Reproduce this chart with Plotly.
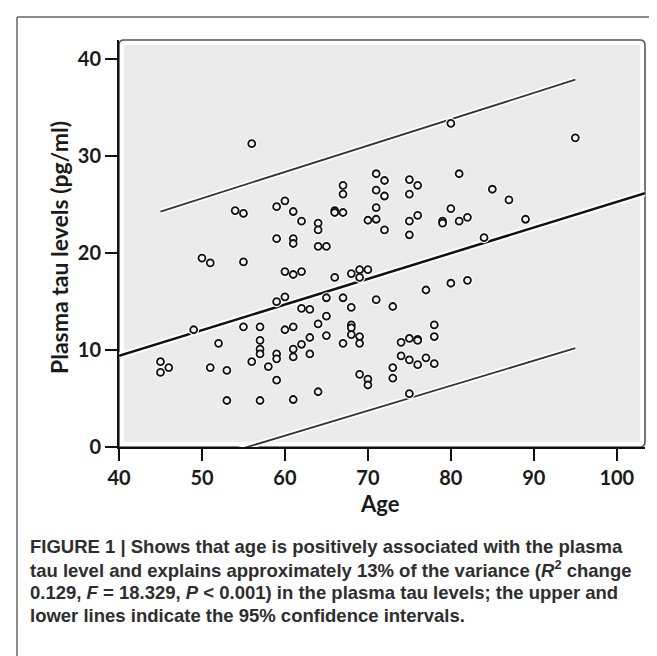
import plotly.graph_objects as go

# ---------------- data ----------------
age = [45, 45, 46, 49, 50, 51, 51, 52, 53, 53, 54, 55, 55, 55, 56, 56,
       57, 57, 57, 57, 57, 58,
       59, 59, 59, 59, 59, 59,
       60, 60, 60, 60,
       61, 61, 61, 61, 61, 61, 61, 61,
       62, 62, 62, 62,
       63, 63, 63,
       64, 64, 64, 64, 64,
       65, 65, 65, 65,
       66, 66, 66,
       67, 67, 67, 67, 67,
       68, 68, 68, 68, 68,
       69, 69, 69, 69, 69,
       70, 70, 70, 70,
       71, 71, 71, 71, 71,
       72, 72, 72,
       73, 73, 73,
       74, 74,
       75, 75, 75, 75, 75, 75, 75,
       76, 76, 76, 76, 76,
       77, 77,
       78, 78, 78,
       79, 79,
       80, 80, 80,
       81, 81,
       82, 82,
       84, 85, 87, 89, 95]
tau = [8.8, 7.7, 8.2, 12.1, 19.5, 19.0, 8.2, 10.7, 7.9, 4.8, 24.4, 24.1, 19.1, 12.4, 31.3, 8.8,
       12.4, 11.0, 10.1, 9.6, 4.8, 8.3,
       24.8, 21.5, 15.0, 9.6, 9.1, 6.9,
       25.4, 18.1, 15.5, 12.1,
       24.3, 21.5, 21.0, 17.8, 12.4, 10.1, 9.3, 4.9,
       23.3, 18.1, 14.3, 10.6,
       14.2, 11.3, 9.6,
       23.1, 22.4, 20.7, 12.7, 5.7,
       20.7, 15.4, 13.5, 11.5,
       24.4, 24.2, 17.5,
       27.0, 26.1, 24.2, 15.4, 10.7,
       17.9, 14.4, 12.6, 12.3, 11.6,
       18.3, 17.5, 11.4, 10.7, 7.5,
       23.4, 18.3, 7.0, 6.4,
       28.2, 26.5, 24.7, 23.5, 15.2,
       27.5, 25.9, 22.4,
       14.5, 8.2, 7.1,
       10.8, 9.4,
       27.6, 26.1, 23.3, 21.9, 11.2, 9.0, 5.5,
       27.0, 23.9, 11.1, 11.0, 8.5,
       16.2, 9.2,
       12.6, 11.4, 8.6,
       23.3, 23.1,
       33.4, 24.6, 16.9,
       28.2, 23.3,
       23.7, 17.2,
       21.6, 26.6, 25.5, 23.5, 31.9]

fit_x = [40, 103.4]
fit_y = [9.4, 26.2]
upper_x = [45, 95]
upper_y = [24.3, 37.9]
lower_x = [45, 95]
lower_y = [-2.7, 10.2]

x_ticks = [40, 50, 60, 70, 80, 90, 100]
y_ticks = [0, 10, 20, 30, 40]

caption_lines = [
    "FIGURE 1 | Shows that age is positively associated with the plasma",
    "tau level and explains approximately 13% of the variance (<i>R</i><sup>2</sup> change",
    "0.129, <i>F</i> = 18.329, <i>P</i> &lt; 0.001) in the plasma tau levels; the upper and",
    "lower lines indicate the 95% confidence intervals.",
]

# ---------------- layout geometry ----------------
W, H = 657, 656
L, R, T, B = 111, 637, 32, 439          # plot area in pixels
pw, ph = R - L, B - T


def px(xp):
    return (xp - L) / pw


def py(yp):
    return (B - yp) / ph


fig = go.Figure()

# white halos under lines
for xs, ys, w in [(upper_x, upper_y, 5.5), (lower_x, lower_y, 5.5), (fit_x, fit_y, 6.5)]:
    fig.add_trace(go.Scatter(x=xs, y=ys, mode="lines", line=dict(color="white", width=w),
                             hoverinfo="skip", showlegend=False))
fig.add_trace(go.Scatter(x=upper_x, y=upper_y, mode="lines", line=dict(color="#333333", width=1.8),
                         showlegend=False))
fig.add_trace(go.Scatter(x=lower_x, y=lower_y, mode="lines", line=dict(color="#333333", width=1.8),
                         showlegend=False))
fig.add_trace(go.Scatter(x=fit_x, y=fit_y, mode="lines", line=dict(color="#111111", width=2.5),
                         showlegend=False))

# points: white halo then ring
fig.add_trace(go.Scatter(x=age, y=tau, mode="markers",
                         marker=dict(symbol="circle", size=11, color="white", line=dict(width=0)),
                         hoverinfo="skip", showlegend=False))
fig.add_trace(go.Scatter(x=age, y=tau, mode="markers",
                         marker=dict(symbol="circle", size=7, color="#f6f6f6",
                                     line=dict(color="#111111", width=1.8)),
                         showlegend=False))

tickfont = dict(family="Lato, Open Sans, sans-serif", size=20, color="#1a1a1a", weight="bold")

fig.update_xaxes(range=[40, 103.4], tickvals=x_ticks, ticks="outside", ticklen=12, tickwidth=2,
                 tickcolor="#111111", showline=True, linecolor="#111111", linewidth=2,
                 showgrid=False, zeroline=False, tickfont=tickfont)
fig.update_yaxes(range=[0, 42.0], tickvals=y_ticks, ticks="outside", ticklen=12, tickwidth=2,
                 tickcolor="#111111", showline=True, linecolor="#111111", linewidth=2,
                 showgrid=False, zeroline=False, tickfont=tickfont)

rx, ry = 5 / pw, 5 / ph
frame_path = (f"M {px(L)},{py(B)} L {px(L)},{1 - ry} Q {px(L)},1 {rx},1 "
              f"L {1 - rx},1 Q 1,1 1,{1 - ry} L 1,{ry} Q 1,0 {1 - rx},0 Z")

shapes = [
    dict(type="rect", xref="paper", yref="paper", x0=px(116), x1=px(632), y0=py(434), y1=py(37),
         fillcolor="#ebebeb", line=dict(width=0), layer="below"),
    dict(type="path", xref="paper", yref="paper", path=frame_path,
         line=dict(color="#555555", width=1.6), layer="below"),
    dict(type="line", xref="paper", yref="paper", x0=px(9), x1=px(9), y0=py(9), y1=py(H + 5),
         line=dict(color="#666666", width=1.5)),
    dict(type="line", xref="paper", yref="paper", x0=px(9), x1=px(W + 5), y0=py(9), y1=py(9),
         line=dict(color="#666666", width=1.5)),
]

annotations = [
    dict(text="Plasma tau levels (pg/ml)", xref="paper", yref="paper", x=px(51), y=py(240),
         textangle=-90, showarrow=False, xanchor="center", yanchor="middle",
         font=dict(family="Lato, Open Sans, sans-serif", size=23, color="#1a1a1a", weight="bold")),
    dict(text="Age", xref="paper", yref="paper", x=px(372), y=py(495),
         showarrow=False, xanchor="center", yanchor="middle",
         font=dict(family="Lato, Open Sans, sans-serif", size=22, color="#1a1a1a", weight="bold")),
]
cap_y0, cap_dy = 538, 23
for i, line in enumerate(caption_lines):
    annotations.append(dict(text=line, xref="paper", yref="paper", x=px(20), y=py(cap_y0 + i * cap_dy),
                            showarrow=False, xanchor="left", yanchor="middle",
                            font=dict(family="Liberation Sans, Arial, sans-serif", size=18.5,
                                      color="#2e2e2e", weight="bold")))

fig.update_layout(width=W, height=H, margin=dict(l=L, r=W - R, t=T, b=H - B),
                  paper_bgcolor="white", plot_bgcolor="rgba(0,0,0,0)",
                  shapes=shapes, annotations=annotations, showlegend=False)

fig.write_html("out.html")
